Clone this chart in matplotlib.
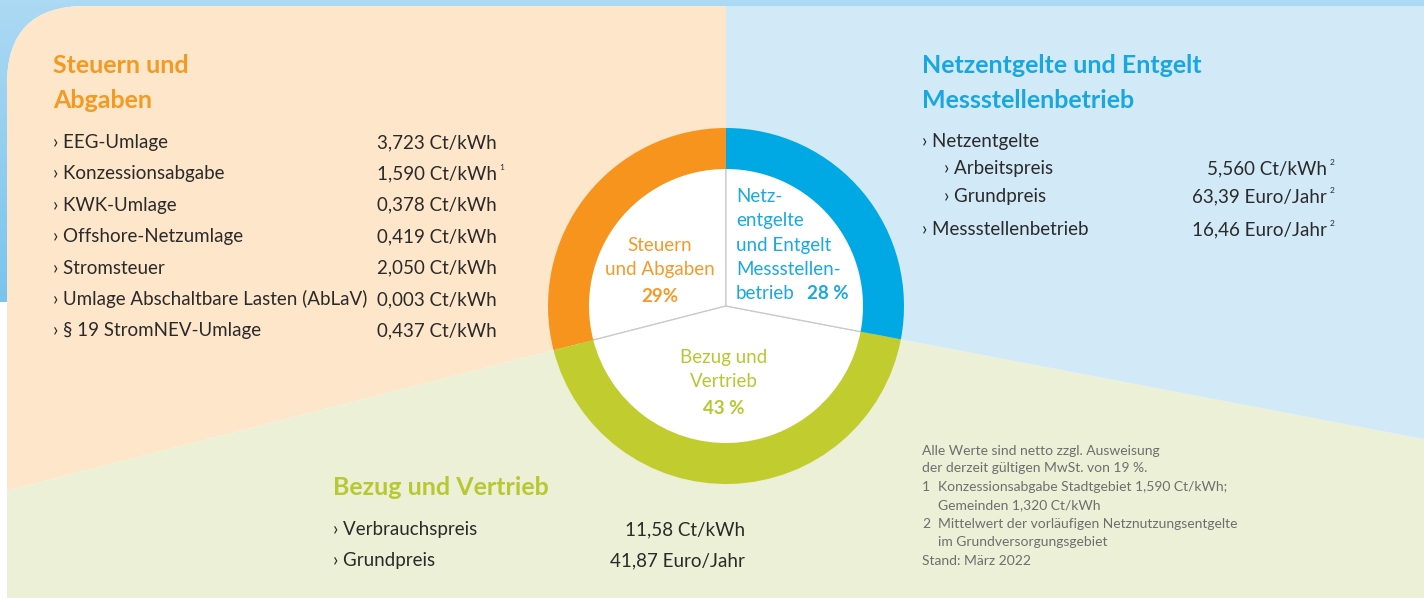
import numpy as np
import matplotlib.pyplot as plt
from matplotlib.patches import FancyBboxPatch
from matplotlib.colors import LinearSegmentedColormap

plt.rcParams['font.family'] = ['Lato', 'DejaVu Sans']

# Anteile am Strompreis, gegen den Uhrzeigersinn ab 12 Uhr
segments = ['Steuern und Abgaben', 'Bezug und Vertrieb', 'Netzentgelte und Entgelt Messstellenbetrieb']
shares = [29, 43, 28]
ring_colors = ['#f7941d', '#c1cd2f', '#00a9e4']
bg_colors = ['#fee6cb', '#ecf0d6', '#d2e9f7']

steuern_labels = ['EEG-Umlage', 'Konzessionsabgabe', 'KWK-Umlage', 'Offshore-Netzumlage',
                  'Stromsteuer', 'Umlage Abschaltbare Lasten (AbLaV)', '§ 19 StromNEV-Umlage']
steuern_values = ['3,723 Ct/kWh', '1,590 Ct/kWh', '0,378 Ct/kWh', '0,419 Ct/kWh',
                  '2,050 Ct/kWh', '0,003 Ct/kWh', '0,437 Ct/kWh']
steuern_notes = ['', '1', '', '', '', '', '']

netz_labels = ['Netzentgelte', 'Arbeitspreis', 'Grundpreis', 'Messstellenbetrieb']
netz_indent = [0, 1, 1, 0]
netz_values = ['', '5,560 Ct/kWh', '63,39 Euro/Jahr', '16,46 Euro/Jahr']
netz_notes = ['', '2', '2', '2']

bezug_labels = ['Verbrauchspreis', 'Grundpreis']
bezug_values = ['11,58 Ct/kWh', '41,87 Euro/Jahr']

footnotes = [('', 'Alle Werte sind netto zzgl. Ausweisung'),
             ('', 'der derzeit gültigen MwSt. von 19 %.'),
             ('1', 'Konzessionsabgabe Stadtgebiet 1,590 Ct/kWh;'),
             ('', 'Gemeinden 1,320 Ct/kWh'),
             ('2', 'Mittelwert der vorläufigen Netznutzungsentgelte'),
             ('', 'im Grundversorgungsgebiet'),
             ('', 'Stand: März 2022')]
footnote_indent = [0, 0, 1, 1, 1, 1, 0]

W, H = 1424, 598
cx, cy = 726, H - 306
dark = '#2a2a2a'

def Y(y):
    return H - y

fig = plt.figure(figsize=(W / 100, H / 100), dpi=100)
ax = fig.add_axes([0, 0, 1, 1])

# blauer Rand oben / links
grad = np.linspace(0, 1, 100).reshape(-1, 1)
cmap = LinearSegmentedColormap.from_list('rand', ['#acd9f3', '#78c4ee'])
ax.imshow(grad, cmap=cmap, extent=(0, W, Y(302), H), origin='upper', aspect='auto', zorder=0)

panel = FancyBboxPatch((7, -400), 2500, H - 6 + 400, boxstyle='round,pad=0,rounding_size=78',
                       fc='white', ec='none', zorder=0.5)
ax.add_patch(panel)

# Hintergrund-Sektoren
bg, _ = ax.pie(shares, colors=bg_colors, startangle=90, center=(cx, cy), radius=2200,
               wedgeprops=dict(linewidth=0))
for w in bg:
    w.set_clip_on(True)
    w.set_clip_path(panel)

# Innenfläche mit Trennlinien, dann Ring
ax.pie(shares, colors=['white'] * 3, startangle=90, center=(cx, cy), radius=150,
       wedgeprops=dict(edgecolor='#c9c9c9', linewidth=0.9))
ax.pie(shares, colors=ring_colors, startangle=90, center=(cx, cy), radius=178,
       wedgeprops=dict(width=41, linewidth=0))

# Beschriftung im Ring
c_or, c_bl, c_gr = '#f59a2a', '#1aa8e2', '#b7c733'
fs_in = 13.5
ax.text(660, Y(251), 'Steuern', color=c_or, fontsize=fs_in, ha='center', va='baseline')
ax.text(660, Y(275), 'und Abgaben', color=c_or, fontsize=fs_in, ha='center', va='baseline')
ax.text(660, Y(302), '29%', color=c_or, fontsize=fs_in, fontweight='bold', ha='center', va='baseline')
for i, s in enumerate(['Netz-', 'entgelte', 'und Entgelt', 'Messstellen-', 'betrieb']):
    ax.text(736, Y(202 + 24.3 * i), s, color=c_bl, fontsize=fs_in, ha='left', va='baseline')
ax.text(807, Y(299), '28 %', color=c_bl, fontsize=fs_in, fontweight='bold', ha='left', va='baseline')
ax.text(724, Y(363), 'Bezug und', color=c_gr, fontsize=fs_in, ha='center', va='baseline')
ax.text(724, Y(387), 'Vertrieb', color=c_gr, fontsize=fs_in, ha='center', va='baseline')
ax.text(724, Y(414), '43 %', color=c_gr, fontsize=fs_in, fontweight='bold', ha='center', va='baseline')

fs_h = 18
fs = 13.5

# Steuern und Abgaben
ax.text(53, Y(73), 'Steuern und', color='#f39a22', fontsize=fs_h, fontweight='bold', va='baseline')
ax.text(53, Y(108), 'Abgaben', color='#f39a22', fontsize=fs_h, fontweight='bold', va='baseline')
for i, (lab, val, note) in enumerate(zip(steuern_labels, steuern_values, steuern_notes)):
    yb = 148 + 31.4 * i
    ax.text(53, Y(yb), '› ' + lab, color=dark, fontsize=fs, va='baseline')
    ax.text(497, Y(yb), val, color=dark, fontsize=fs, ha='right', va='baseline')
    if note:
        ax.text(499, Y(yb - 9), note, color=dark, fontsize=6, va='baseline')

# Netzentgelte
ax.text(922, Y(73), 'Netzentgelte und Entgelt', color='#19a7e0', fontsize=fs_h, fontweight='bold', va='baseline')
ax.text(922, Y(108), 'Messstellenbetrieb', color='#19a7e0', fontsize=fs_h, fontweight='bold', va='baseline')
netz_y = [147, 174, 202, 235]
for lab, ind, val, note, yb in zip(netz_labels, netz_indent, netz_values, netz_notes, netz_y):
    ax.text(922 + 22 * ind, Y(yb), '› ' + lab, color=dark, fontsize=fs, va='baseline')
    if val:
        ax.text(1327, Y(yb), val, color=dark, fontsize=fs, ha='right', va='baseline')
        ax.text(1330, Y(yb - 9), note, color=dark, fontsize=6, va='baseline')

# Bezug und Vertrieb
ax.text(333, Y(495), 'Bezug und Vertrieb', color='#b8c832', fontsize=fs_h, fontweight='bold', va='baseline')
for i, (lab, val) in enumerate(zip(bezug_labels, bezug_values)):
    yb = 535 + 31.4 * i
    ax.text(333, Y(yb), '› ' + lab, color=dark, fontsize=fs, va='baseline')
    ax.text(745, Y(yb), val, color=dark, fontsize=fs, ha='right', va='baseline')

# Fußnoten
foot_y = [455, 472, 491, 509, 528, 546, 565]
for (num, s), ind, yb in zip(footnotes, footnote_indent, foot_y):
    if num:
        ax.text(922, Y(yb), num, color='#6e6e6e', fontsize=10, va='baseline')
    ax.text(922 + 16 * ind, Y(yb), s, color='#6e6e6e', fontsize=10, va='baseline')

ax.set_xlim(0, W)
ax.set_ylim(0, H)
ax.set_aspect('auto')
ax.axis('off')

fig.savefig('out.png', dpi=100)
